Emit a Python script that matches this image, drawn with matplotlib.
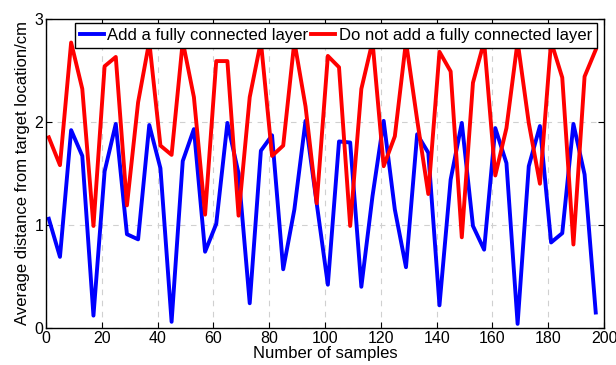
import numpy as np
import matplotlib
matplotlib.use('Agg')
import matplotlib.pyplot as plt

plt.rcParams['font.family'] = ['Liberation Sans', 'DejaVu Sans']

samples = np.arange(1, 200, 4)

with_fc = [1.06, 0.69, 1.92, 1.67, 0.12, 1.52, 1.98, 0.91, 0.86, 1.97,
           1.55, 0.06, 1.62, 1.93, 0.74, 1.01, 1.99, 1.50, 0.24, 1.72,
           1.87, 0.57, 1.15, 2.01, 1.21, 0.42, 1.81, 1.80, 0.40, 1.28,
           2.01, 1.15, 0.59, 1.88, 1.70, 0.22, 1.44, 1.99, 0.99, 0.76,
           1.94, 1.60, 0.04, 1.57, 1.96, 0.83, 0.92, 1.98, 1.49, 0.15]

without_fc = [1.85, 1.58, 2.77, 2.32, 0.99, 2.54, 2.63, 1.19, 2.19, 2.78,
              1.77, 1.68, 2.78, 2.24, 1.10, 2.59, 2.59, 1.09, 2.24, 2.78,
              1.67, 1.77, 2.78, 2.15, 1.21, 2.64, 2.53, 0.99, 2.32, 2.78,
              1.57, 1.86, 2.78, 2.02, 1.30, 2.68, 2.49, 0.88, 2.38, 2.78,
              1.48, 1.94, 2.78, 1.99, 1.40, 2.78, 2.43, 0.81, 2.44, 2.70]

fig = plt.figure(figsize=(6.16, 3.65), dpi=100)
ax = fig.add_axes([0.0747, 0.1014, 0.906, 0.847])

ax.plot(samples, with_fc, color='blue', lw=2.8, label='Add a fully connected layer')
ax.plot(samples, without_fc, color='red', lw=2.8, label='Do not add a fully connected layer')

ax.set_xlim(0, 200)
ax.set_ylim(0, 3)
ax.set_xticks(np.arange(0, 201, 20))
ax.set_yticks([0, 1, 2, 3])
ax.grid(True, ls=(0, (5, 5)), color='#d0d0d0', lw=0.8)
ax.tick_params(direction='in', top=True, right=True, labelsize=11.5, length=4, pad=2)
for s in ax.spines.values():
    s.set_linewidth(1.0)

ax.set_xlabel('Number of samples', fontsize=12, labelpad=0)
ax.set_ylabel('Average distance from target location/cm', fontsize=12, labelpad=3)

leg = ax.legend(loc='upper right', bbox_to_anchor=(0.9875, 0.986), ncol=2, fontsize=12,
                frameon=True, fancybox=False, edgecolor='black', framealpha=1,
                borderpad=0.3, handlelength=1.45, handletextpad=0.22,
                columnspacing=0.15, borderaxespad=0)
leg.get_frame().set_linewidth(1.0)

fig.savefig('out.png', dpi=100)
